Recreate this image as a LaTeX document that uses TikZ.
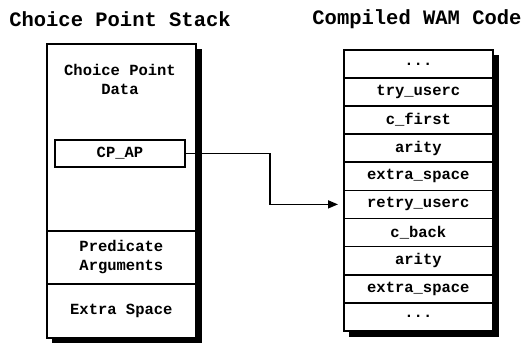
\documentclass[tikz,border=0pt]{standalone}
\usepackage{fontspec}
\setmonofont{Liberation Mono}
\usetikzlibrary{arrows.meta,calc}
\newcommand\mydots{...}
\tikzset{
  boxtext/.style={font=\ttfamily\bfseries\fontsize{15.5}{19}\selectfont, align=center, inner sep=0pt},
  titletext/.style={font=\ttfamily\bfseries\fontsize{20.5}{24}\selectfont, inner sep=0pt},
  cell/.style={draw=black, fill=white, line width=1.7pt, inner sep=0pt, anchor=north west, boxtext},
  shadowfill/.style={fill=black},
  link/.style={line width=1.6pt, -{Triangle[length=10pt,width=8pt]}}
}
\begin{document}
\begin{tikzpicture}[x=1pt,y=-1pt]
\useasboundingbox (0,0) rectangle (527,343);
% titles
\node[titletext] (t1) at (120,19) {Choice Point Stack};
\node[titletext] (t2) at (417,19) {Compiled WAM Code};
% left stack
\fill[shadowfill] (52,49) rectangle (202,343);
\node[cell, minimum width=149pt, minimum height=187pt] (cpd) at (46,43) {};
\node[boxtext] (cpdt) at (120,79.5) {Choice Point\\Data};
\node[cell, minimum width=130pt, minimum height=27pt, anchor=center] (cpap) at (120,153.5) {CP\_AP};
\node[cell, minimum width=149pt, minimum height=53pt] (pred) at (46,230) {Predicate\\Arguments};
\node[cell, minimum width=149pt, minimum height=54pt] (extra) at (46,283) {Extra Space};
% right code
\fill[shadowfill] (349,55) rectangle (499,337);
\foreach \t [count=\i] in {\mydots,try\_userc,c\_first,arity,extra\_space,retry\_userc,c\_back,arity,extra\_space,\mydots}{
  \node[cell, minimum width=149pt, minimum height=28.1pt] (r\i) at (343,{49+28.1*(\i-1)}) {\t};
}
% connector
\coordinate (bend) at (270,0);
\draw[link, shorten >=5pt] (cpap.east) -- (cpap.east -| bend) |- (r6.west);
\end{tikzpicture}
\end{document}
